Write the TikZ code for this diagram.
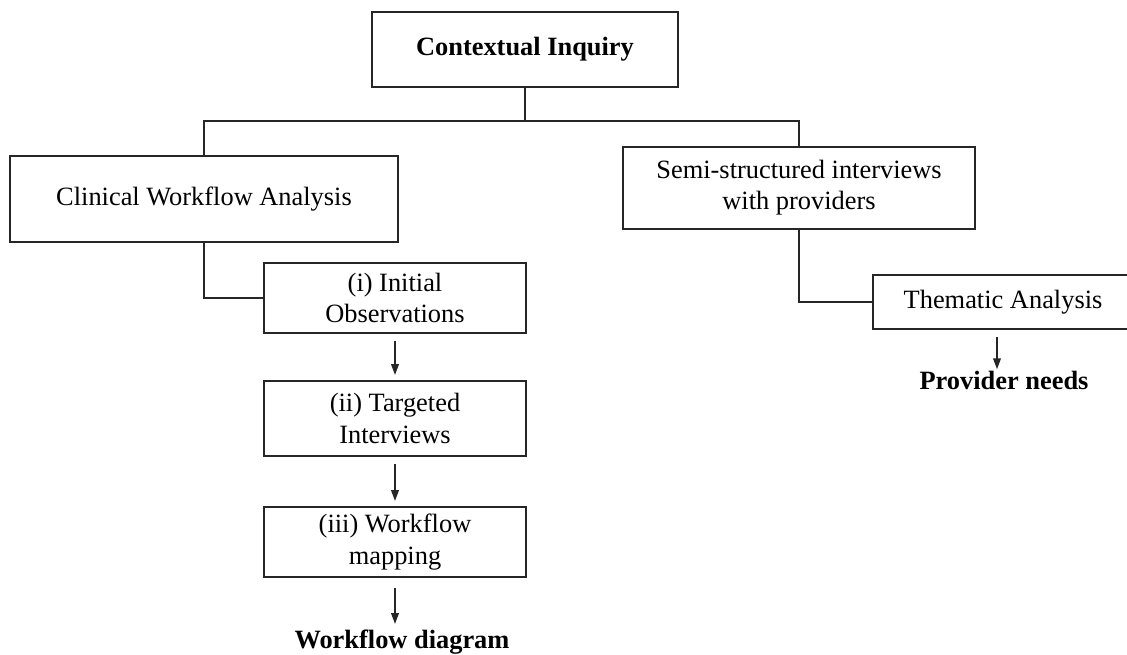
\documentclass[tikz,border=0pt]{standalone}
\usepackage{fontspec}
\setmainfont{Liberation Serif}
\usetikzlibrary{arrows.meta}
\begin{document}
\begin{tikzpicture}[x=0.5pt,y=-0.5pt,
  txt/.style={font=\fontsize{13.2}{15.6}\selectfont},
  box/.style={txt, draw=black!85, line width=0.95pt, align=center, inner sep=0pt},
  lbl/.style={inner sep=0pt, anchor=base, font=\fontsize{13.2}{15.6}\selectfont\bfseries},
  link/.style={draw=black!85, line width=0.95pt},
  arr/.style={link, -{Triangle[length=5.5pt,width=3.8pt]}, shorten <=3.5pt, shorten >=2.5pt}]
\useasboundingbox (0,0) rectangle (1127,654);

% top level
\node[box, font=\fontsize{13.2}{15.6}\selectfont\bfseries, minimum width=153pt, minimum height=37.5pt] (ci) at (525,49.5) {Contextual Inquiry};

% two branches
\node[box, minimum width=194pt, minimum height=43pt] (cwa) at (204,199) {Clinical Workflow Analysis};
\node[box, minimum width=176pt, minimum height=41pt] (ssi) at (799,188) {Semi-structured interviews\\with providers};

% workflow analysis steps
\node[box, minimum width=131pt, minimum height=35pt] (io) at (395,298) {(i) Initial\\Observations};
\node[box, minimum width=131pt, minimum height=37.5pt] (ti) at (395,418.5) {(ii) Targeted\\Interviews};
\node[box, minimum width=131pt, minimum height=35pt] (wm) at (395,542) {(iii) Workflow\\mapping};
\node[lbl] (wd) at (402,648) {Workflow diagram};

% interview analysis
\node[box, minimum width=130pt, minimum height=27pt] (ta) at (1003,302) {Thematic Analysis};
\node[lbl] (pn) at (1004,389) {Provider needs};

% tree connectors
\coordinate (bus) at (525,121);
\draw[link] (ci.south) -- (ci.south |- bus);
\draw[link] (cwa.north) -- (cwa.north |- bus) -- (ssi.north |- bus) -- (ssi.north);
\draw[link] (cwa.south) |- (io.west);
\draw[link] (ssi.south) |- (ta.west);

% flow arrows
\draw[arr] (io.south) -- (ti.north);
\draw[arr] (ti.south) -- (wm.north);
\draw[arr, shorten <=5pt] (wm.south) -- (wm.south |- wd.north);
\draw[arr, shorten >=0.5pt] ([xshift=-3pt]ta.south) -- ([xshift=-3pt]ta.south |- pn.north);
\end{tikzpicture}
\end{document}
